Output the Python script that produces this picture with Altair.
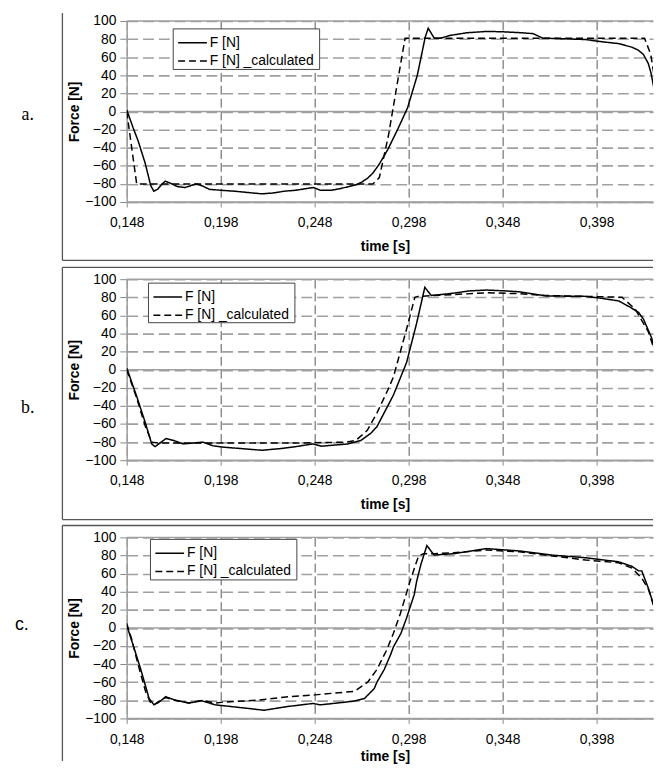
import altair as alt
import pandas as pd

SERIES = ["F [N]", "F [N] _calculated"]
X_TICKS = [0.148, 0.198, 0.248, 0.298, 0.348, 0.398]
X_DOMAIN = [0.148, 0.428]
Y_TICKS = [-100, -80, -60, -40, -20, 0, 20, 40, 60, 80, 100]
BORDER_Y = [-100, 0, 100]
PANEL_LABELS = ["a.", "b.", "c."]

# panel a
A_MEASURED = [(0.148, 2), (0.1514, -18), (0.1540, -32), (0.1578, -57), (0.1608, -82), (0.1624, -88),
              (0.1644, -86), (0.1668, -80), (0.1685, -77), (0.1710, -79), (0.1750, -83), (0.1790, -84),
              (0.1820, -82), (0.1850, -80), (0.1880, -82), (0.1920, -86), (0.1980, -87), (0.2050, -88),
              (0.2150, -90), (0.2200, -91), (0.2260, -90), (0.2320, -88), (0.2380, -87), (0.2440, -85),
              (0.2475, -84), (0.2510, -87), (0.2570, -87), (0.2620, -85), (0.2660, -83), (0.2700, -81),
              (0.2730, -78), (0.2760, -74), (0.2790, -68), (0.2824, -58), (0.2869, -42), (0.2921, -20),
              (0.2974, 4), (0.3026, 40), (0.3068, 82), (0.3084, 92), (0.3116, 81), (0.3150, 81),
              (0.3200, 84), (0.3290, 87), (0.3400, 88.5), (0.3484, 88), (0.3580, 87), (0.3642, 86),
              (0.3694, 81), (0.3782, 80.5), (0.3920, 79.5), (0.4010, 77), (0.4097, 75), (0.4168, 71),
              (0.4200, 68), (0.4229, 63), (0.4255, 53), (0.4270, 42), (0.4290, 20)]
A_CALC = [(0.148, 0), (0.1533, -80), (0.2790, -80), (0.2824, -73), (0.2873, -26), (0.2917, 28),
          (0.2961, 81), (0.4235, 81), (0.4268, 63), (0.4290, 34)]

# panel b
B_MEASURED = [(0.148, 2), (0.1534, -30), (0.1578, -58), (0.1613, -82), (0.1631, -85), (0.1657, -81),
              (0.1689, -76), (0.1727, -78), (0.1780, -82), (0.1833, -81), (0.1885, -80), (0.1938, -84),
              (0.1990, -85.5), (0.2080, -87), (0.2200, -89), (0.2306, -87), (0.2380, -85), (0.2470, -82),
              (0.2517, -84.5), (0.2600, -83), (0.2657, -82), (0.2727, -78), (0.2780, -70), (0.2811, -63),
              (0.2869, -40), (0.2899, -28), (0.2969, 8), (0.3022, 51), (0.3066, 91), (0.3100, 82),
              (0.3150, 83), (0.3218, 84.5), (0.3300, 87), (0.3393, 88), (0.3500, 87), (0.3570, 86),
              (0.3710, 81.5), (0.3922, 81), (0.4000, 79), (0.4097, 76), (0.4150, 70), (0.4202, 63.6),
              (0.4229, 56), (0.4273, 35), (0.4290, 20)]
B_CALC = [(0.148, 0), (0.1534, -32), (0.1578, -62), (0.1613, -80), (0.1650, -81), (0.2000, -81),
          (0.2400, -81), (0.2650, -80), (0.2700, -78), (0.2760, -67), (0.2811, -48), (0.2870, -22),
          (0.2899, -8), (0.2969, 45), (0.3013, 80), (0.3030, 81), (0.3218, 83), (0.3393, 85),
          (0.3570, 84), (0.3710, 82), (0.3922, 81), (0.4115, 80), (0.4185, 67), (0.4255, 42), (0.4290, 20)]

# panel c
C_MEASURED = [(0.148, 3), (0.1511, -17), (0.1555, -46), (0.1599, -78), (0.1625, -85), (0.1652, -82),
              (0.1687, -76), (0.1740, -80), (0.1810, -83), (0.1880, -80.5), (0.1950, -85), (0.2040, -87),
              (0.2150, -89.5), (0.2210, -91), (0.2330, -87), (0.2470, -83.5), (0.2510, -85), (0.2600, -83),
              (0.2686, -81), (0.2745, -78), (0.2797, -67), (0.2811, -60), (0.2850, -46), (0.2885, -29),
              (0.2899, -21), (0.2939, -6), (0.2969, 11), (0.3010, 37), (0.3022, 51), (0.3045, 70),
              (0.3077, 91), (0.3115, 80.5), (0.3220, 82), (0.3393, 87.6), (0.3570, 85), (0.3745, 80.4),
              (0.3922, 77.5), (0.4097, 73), (0.4168, 68), (0.4203, 63), (0.4220, 63), (0.4255, 44),
              (0.4290, 21)]
C_CALC = [(0.148, 5), (0.1507, -13), (0.1540, -40), (0.1580, -70), (0.1605, -82), (0.1625, -85),
          (0.1652, -81), (0.1687, -77), (0.1740, -80), (0.1810, -83), (0.1880, -80), (0.1950, -83),
          (0.1991, -82), (0.2166, -80), (0.2342, -76), (0.2482, -74), (0.2692, -70), (0.2762, -60),
          (0.2811, -46), (0.2864, -24), (0.2899, -6), (0.2936, 16), (0.2988, 52), (0.3032, 79),
          (0.3058, 82), (0.3116, 82), (0.3220, 83), (0.3393, 86), (0.3570, 84), (0.3745, 79.5),
          (0.3922, 75), (0.4097, 72), (0.4168, 66), (0.4220, 55), (0.4255, 43), (0.4290, 20)]

FONT = "Liberation Sans"
W, H = 532, 183
DASHES = [[1, 0], [7, 4]]


def panel(measured, calc, label, label_font, label_x, label_y, legend_xy, legend_h,
          box_top, box_bottom, draw_top, draw_bottom, xtitle_y):
    rows = [{"t": t, "F": v, "series": SERIES[0]} for t, v in measured]
    rows += [{"t": t, "F": v, "series": SERIES[1]} for t, v in calc]
    df = pd.DataFrame(rows)

    x = alt.X("t:Q", scale=alt.Scale(domain=X_DOMAIN, nice=False, zero=False),
              axis=alt.Axis(values=X_TICKS, title="time [s]",
                            labelExpr="replace(format(datum.value, '.3f'), '.', ',')",
                            grid=True, gridDash=[9, 4], gridColor="#555555", gridWidth=1,
                            tickSize=5, tickColor="#888888", domainColor="#a0a0a0", domainWidth=1.5,
                            labelPadding=9, labelFontSize=14, labelColor="black", labelFont=FONT,
                            titleFont=FONT, titleFontSize=14, titleFontWeight="bold", titleColor="black",
                            titleX=261, titleY=xtitle_y, titleBaseline="middle", titleAlign="center",
                            labelFlush=False))
    y = alt.Y("F:Q", scale=alt.Scale(domain=[-100, 100], nice=False),
              axis=alt.Axis(values=Y_TICKS, title="Force [N]", grid=True, gridDash=[11, 5],
                            gridColor="#a0a0a0", gridWidth=1.6, tickSize=7, tickColor="#888888",
                            domainColor="#a0a0a0", domainWidth=1.5, labelPadding=4,
                            labelFontSize=14, labelColor="black", labelFont=FONT,
                            titleFont=FONT, titleFontSize=14, titleFontWeight="bold", titleColor="black",
                            titleX=-53, titleY=H / 2, titleAngle=-90, titleBaseline="middle",
                            titleAlign="center"))

    border = alt.Chart(pd.DataFrame({"F": BORDER_Y})).mark_rule(
        color="#a0a0a0", strokeWidth=1.5).encode(y=y)

    lines = alt.Chart(df).mark_line(color="black", strokeWidth=1.5, clip=True).encode(
        x=x, y=y,
        strokeDash=alt.StrokeDash("series:N", scale=alt.Scale(domain=SERIES, range=DASHES),
                                  legend=None))

    one = pd.DataFrame({"k": [0]})
    layers = [border, lines]
    rule_style = dict(color="#555555", strokeWidth=1.3)
    layers.append(alt.Chart(one).mark_rule(**rule_style).encode(
        x=alt.value(-65), y=alt.value(box_top), y2=alt.value(box_bottom)))
    if draw_top:
        layers.append(alt.Chart(one).mark_rule(**rule_style).encode(
            x=alt.value(-65), x2=alt.value(W), y=alt.value(box_top)))
    if draw_bottom:
        layers.append(alt.Chart(one).mark_rule(**rule_style).encode(
            x=alt.value(-65), x2=alt.value(W), y=alt.value(box_bottom)))
    layers.append(alt.Chart(one).mark_text(text=label, font=label_font, fontSize=18,
                                           color="black", align="center", baseline="middle").encode(
        x=alt.value(label_x), y=alt.value(label_y)))
    layers.append(alt.Chart(one).mark_rule(strokeOpacity=0, strokeWidth=1).encode(
        x=alt.value(-120), y=alt.value(0), y2=alt.value(10)))

    # legend box
    lx, ly = legend_xy
    layers.append(alt.Chart(one).mark_rect(fill="white", stroke="#444444", strokeWidth=1).encode(
        x=alt.value(lx), x2=alt.value(lx + 148), y=alt.value(ly), y2=alt.value(ly + legend_h)))
    for i, (name, dash) in enumerate(zip(SERIES, DASHES)):
        ry = ly + 14 + i * 18.5
        layers.append(alt.Chart(one).mark_rule(color="black", strokeWidth=1.5, strokeDash=dash).encode(
            x=alt.value(lx + 5), x2=alt.value(lx + 34), y=alt.value(ry)))
        layers.append(alt.Chart(pd.DataFrame({"series": [name]})).mark_text(
            font=FONT, fontSize=14, color="black", align="left", baseline="middle").encode(
            text="series:N", x=alt.value(lx + 37), y=alt.value(ry)))
    return alt.layer(*layers).properties(width=W, height=H)


pa = panel(A_MEASURED, A_CALC, PANEL_LABELS[0], "Liberation Serif", -100, 95, (47, 8), 41,
           -8, 242, False, True, 45)
pb = panel(B_MEASURED, B_CALC, PANEL_LABELS[1], "Liberation Serif", -100, 130, (22, 4), 40,
           -12, 243, True, True, 45)
pc = panel(C_MEASURED, C_CALC, PANEL_LABELS[2], FONT, -106, 89, (24, 2), 41,
           -12, 226, True, False, 39)

chart = alt.vconcat(pa, pb, pc, spacing=78, bounds="flush").resolve_scale(
    strokeDash="independent").properties(
    padding={"left": 0, "top": 0, "right": 0, "bottom": 0},
    background="white").configure_view(stroke=None)

chart.save("out.html", embed_options={"renderer": "svg", "actions": False})
